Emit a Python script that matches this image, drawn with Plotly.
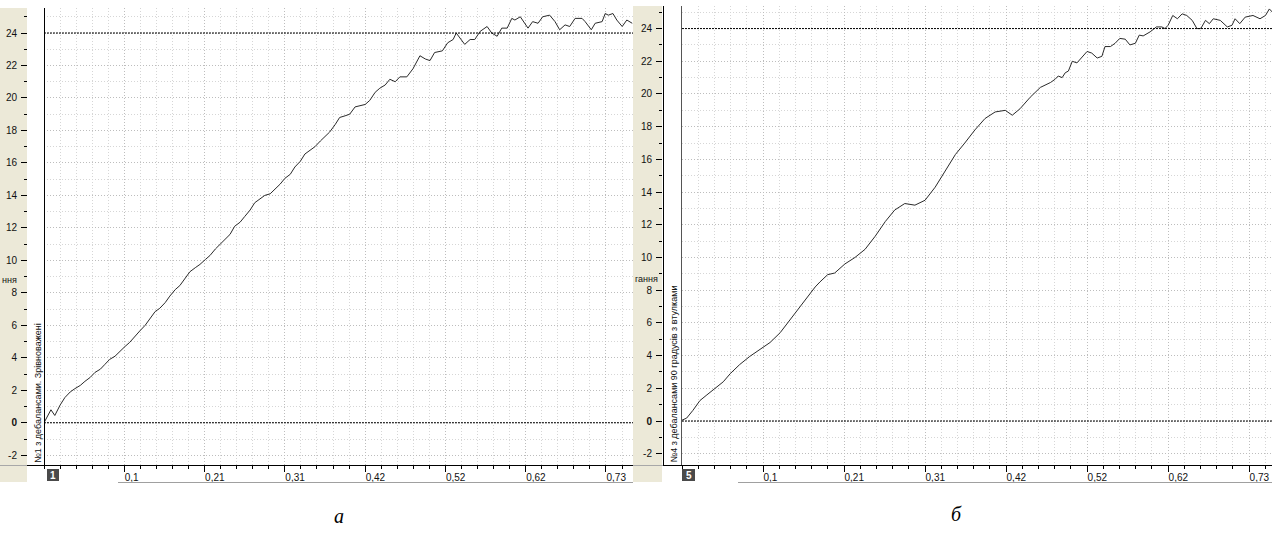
import plotly.graph_objects as go

# ---- data -------------------------------------------------------------
# panel a: rotor No1 with unbalances, balanced
a_t = [0.000, 0.004, 0.009, 0.014, 0.021, 0.027, 0.034, 0.040, 0.047, 0.053,
       0.060, 0.066, 0.073, 0.079, 0.085, 0.092, 0.098, 0.105, 0.111, 0.118,
       0.124, 0.131, 0.137, 0.144, 0.150, 0.157, 0.163, 0.170, 0.176, 0.183,
       0.189, 0.196, 0.202, 0.209, 0.215, 0.222, 0.228, 0.234, 0.241, 0.247,
       0.254, 0.260, 0.267, 0.273, 0.280, 0.286, 0.293, 0.299, 0.306, 0.312,
       0.319, 0.325, 0.332, 0.338, 0.345, 0.351, 0.358, 0.364, 0.370, 0.377,
       0.383, 0.390, 0.396, 0.403, 0.409, 0.416, 0.422, 0.429, 0.435, 0.442,
       0.448, 0.455, 0.461, 0.470, 0.478, 0.487, 0.494, 0.500, 0.506, 0.516,
       0.523, 0.530, 0.534, 0.539, 0.545, 0.552, 0.558, 0.565, 0.574, 0.580,
       0.587, 0.593, 0.600, 0.606, 0.610, 0.617, 0.627, 0.633, 0.640, 0.646,
       0.655, 0.662, 0.668, 0.675, 0.681, 0.688, 0.697, 0.701, 0.709, 0.714,
       0.723, 0.727, 0.731, 0.737, 0.742, 0.749, 0.755, 0.762]
a_v = [0.00, 0.40, 0.80, 0.45, 1.10, 1.55, 1.90, 2.10, 2.30, 2.55,
       2.80, 3.10, 3.30, 3.60, 3.90, 4.10, 4.40, 4.70, 4.95, 5.35,
       5.65, 6.00, 6.40, 6.85, 7.05, 7.40, 7.80, 8.20, 8.45, 8.90,
       9.30, 9.55, 9.75, 10.05, 10.30, 10.70, 11.00, 11.25, 11.60, 12.10,
       12.35, 12.70, 13.10, 13.55, 13.80, 14.00, 14.10, 14.35, 14.70, 15.05,
       15.30, 15.75, 16.10, 16.55, 16.80, 17.00, 17.35, 17.60, 17.90, 18.35,
       18.80, 18.90, 19.00, 19.45, 19.50, 19.60, 19.85, 20.35, 20.60, 20.80,
       21.15, 21.00, 21.30, 21.30, 21.80, 22.60, 22.40, 22.30, 22.80, 22.90,
       23.40, 23.60, 24.00, 23.70, 23.30, 23.60, 23.60, 24.10, 24.40, 24.00,
       23.80, 24.30, 24.30, 24.90, 24.80, 25.00, 24.30, 24.70, 24.60, 25.00,
       25.10, 24.70, 24.20, 24.50, 24.40, 24.90, 24.90, 24.70, 24.20, 24.60,
       24.70, 25.20, 25.10, 25.20, 24.80, 24.40, 24.80, 24.60]

# panel б: rotor No4, unbalances at 90 degrees, with bushings
b_t = [0.000, 0.006, 0.014, 0.023, 0.032, 0.042, 0.053, 0.062, 0.074, 0.087,
       0.100, 0.113, 0.126, 0.139, 0.152, 0.164, 0.171, 0.177, 0.187, 0.196,
       0.209, 0.222, 0.235, 0.248, 0.261, 0.273, 0.286, 0.299, 0.312, 0.325,
       0.338, 0.351, 0.363, 0.376, 0.389, 0.402, 0.415, 0.424, 0.434, 0.447,
       0.460, 0.473, 0.479, 0.483, 0.488, 0.492, 0.496, 0.501, 0.507, 0.514,
       0.520, 0.526, 0.533, 0.539, 0.543, 0.550, 0.556, 0.562, 0.569, 0.575,
       0.582, 0.587, 0.592, 0.601, 0.609, 0.616, 0.620, 0.624, 0.630, 0.636,
       0.642, 0.648, 0.655, 0.661, 0.666, 0.672, 0.677, 0.682, 0.691, 0.700,
       0.706, 0.710, 0.716, 0.723, 0.733, 0.742, 0.749, 0.754, 0.758]
b_v = [0.05, 0.18, 0.65, 1.25, 1.60, 2.00, 2.40, 2.90, 3.45, 3.95,
       4.40, 4.80, 5.40, 6.20, 7.00, 7.80, 8.20, 8.50, 8.95, 9.05,
       9.60, 10.00, 10.50, 11.30, 12.20, 12.90, 13.30, 13.20, 13.50, 14.30,
       15.30, 16.30, 17.00, 17.80, 18.50, 18.90, 19.00, 18.70, 19.10, 19.80,
       20.40, 20.70, 20.90, 21.10, 21.00, 21.30, 21.40, 22.00, 21.90, 22.30,
       22.60, 22.50, 22.20, 22.30, 22.90, 22.90, 23.10, 23.40, 23.35, 23.00,
       23.10, 23.60, 23.55, 23.80, 24.10, 24.10, 24.00, 24.20, 24.80, 24.60,
       24.90, 24.80, 24.50, 24.00, 24.00, 24.50, 24.30, 24.60, 24.50, 24.10,
       24.20, 24.60, 24.30, 24.70, 24.80, 24.60, 24.80, 25.20, 25.00]

x_tick_step = 0.104
x_tick_labels = ["0,1", "0,21", "0,31", "0,42", "0,52", "0,62", "0,73"]
y_tick_vals = [-2, 0, 2, 4, 6, 8, 10, 12, 14, 16, 18, 20, 22, 24]
y_tick_text = ["-2", "<b>0</b>", "2", "4", "6", "8", "10", "12", "14", "16",
               "18", "20", "22", "24"]
ref_levels = [0, 24]

titles = ["№1 з дебалансами. Зрівноважені", "№4 з дебалансами 90 градусів з втулками"]
axis_names = ["ння", "гання"]
chan_ids = ["1", "5"]
captions = ["а", "б"]

# ---- geometry helpers (pixel -> paper) -------------------------------
W, H = 1272, 536


def px(x):
    return x / W


def py(y):
    return 1 - y / H


BEIGE = "#ECE9D8"
FONT = "Liberation Sans"
TICK_FONT = dict(family=FONT, size=10, color="#111")

fig = go.Figure()
fig.add_trace(go.Scatter(x=a_t, y=a_v, mode="lines", xaxis="x", yaxis="y",
                         line=dict(color="#2a2a2a", width=1), showlegend=False,
                         hoverinfo="skip"))
fig.add_trace(go.Scatter(x=b_t, y=b_v, mode="lines", xaxis="x2", yaxis="y2",
                         line=dict(color="#2a2a2a", width=1), showlegend=False,
                         hoverinfo="skip"))

x_tick_vals = [x_tick_step * (i + 1) for i in range(len(x_tick_labels))]


def xaxis_cfg(dom, rng, anchor):
    return dict(domain=dom, range=rng, anchor=anchor,
                tickmode="array", tickvals=x_tick_vals, ticktext=x_tick_labels,
                ticks="outside", ticklen=6, tickcolor="black", tickwidth=1,
                ticklabelposition="outside right", tickfont=TICK_FONT,
                ticklabelstandoff=3,
                showline=False, zeroline=False,
                showgrid=True, gridcolor="#bdbdbd", griddash="1px,2px", gridwidth=1,
                minor=dict(tickmode="linear", tick0=0, dtick=x_tick_step / 5,
                           ticks="outside", ticklen=3, tickcolor="black",
                           showgrid=True, gridcolor="#d6d6d6", griddash="1px,2px",
                           gridwidth=1),
                fixedrange=True)


def yaxis_cfg(dom, rng, pos):
    return dict(domain=dom, range=rng, anchor="free", position=pos,
                tickmode="array", tickvals=y_tick_vals, ticktext=y_tick_text,
                ticks="outside", ticklen=6, tickcolor="black", tickwidth=1,
                tickfont=TICK_FONT, ticklabelstandoff=2,
                showline=False, zeroline=False,
                showgrid=True, gridcolor="#bdbdbd", griddash="1px,2px", gridwidth=1,
                minor=dict(tickmode="linear", tick0=0, dtick=1,
                           ticks="outside", ticklen=3, tickcolor="black",
                           showgrid=True, gridcolor="#d6d6d6", griddash="1px,2px",
                           gridwidth=1),
                fixedrange=True)


xa = xaxis_cfg([px(44), px(633)], [0, 0.763], "y")
xb = xaxis_cfg([px(682), 1.0], [0, 0.7574], "y2")
ya = yaxis_cfg([py(465), py(8)], [-2.6, 25.54], px(27))
yb = yaxis_cfg([py(465), py(6)], [-2.69, 25.38], px(662))

shapes = []


def rect(x0, y0, x1, y1, fill, layer="below"):
    shapes.append(dict(type="rect", xref="paper", yref="paper",
                       x0=px(x0), x1=px(x1), y0=py(y1), y1=py(y0),
                       fillcolor=fill, line=dict(width=0), layer=layer))


def seg(x0, y0, x1, y1, color="black", width=1):
    shapes.append(dict(type="line", xref="paper", yref="paper",
                       x0=px(x0), x1=px(x1), y0=py(y0), y1=py(y1),
                       line=dict(color=color, width=width), layer="above"))


# beige axis strips
rect(0, 8, 27, 482, BEIGE)
rect(633, 6, 662, 482, BEIGE)
seg(0, 465.5, 27, 465.5, "#a8a8a8")
seg(633, 465.5, 663, 465.5, "#a8a8a8")

# frame lines
seg(44.5, 8, 44.5, 465.5, "black")
seg(27, 465.5, 633, 465.5, "black")
seg(663.5, 6, 663.5, 465.5, "black")
seg(681.5, 6, 681.5, 465.5, "#555555")
seg(663, 465.5, 1272, 465.5, "black")

# scroll-bar edges under the axes
seg(118, 482.5, 633, 482.5, "#a0a0a0")
seg(738, 482.5, 1272, 482.5, "#a0a0a0")

# reference levels
for xr, yr in (("x", "y"), ("x2", "y2")):
    for lv in ref_levels:
        shapes.append(dict(type="line", xref=f"{xr} domain", yref=yr,
                           x0=0, x1=1, y0=lv, y1=lv,
                           line=dict(color="black", width=1, dash="2px,1px"),
                           layer="above"))

# channel number boxes
rect(47, 469, 59, 481, "#4a4a4a", layer="above")
rect(682, 469, 695, 481, "#4a4a4a", layer="above")

LBL_FONT = dict(family=FONT, size=9, color="#111")
annotations = [
    dict(text=titles[0], x=px(38), y=py(465), xref="paper", yref="paper",
         textangle=-90, xanchor="center", yanchor="bottom", showarrow=False,
         font=LBL_FONT),
    dict(text=titles[1], x=px(673), y=py(465), xref="paper", yref="paper",
         textangle=-90, xanchor="center", yanchor="bottom", showarrow=False,
         font=LBL_FONT),
    dict(text=axis_names[0], x=px(0), y=py(280), xref="paper", yref="paper",
         xanchor="left", yanchor="middle", showarrow=False, font=LBL_FONT),
    dict(text=axis_names[1], x=px(633), y=py(279), xref="paper", yref="paper",
         xanchor="left", yanchor="middle", showarrow=False, font=LBL_FONT),
    dict(text=f"<b>{chan_ids[0]}</b>", x=px(53), y=py(475), xref="paper", yref="paper",
         xanchor="center", yanchor="middle", showarrow=False,
         font=dict(family=FONT, size=10, color="white")),
    dict(text=f"<b>{chan_ids[1]}</b>", x=px(688.5), y=py(475), xref="paper", yref="paper",
         xanchor="center", yanchor="middle", showarrow=False,
         font=dict(family=FONT, size=10, color="white")),
    dict(text=f"<i>{captions[0]}</i>", x=px(339), y=py(516), xref="paper", yref="paper",
         xanchor="center", yanchor="middle", showarrow=False,
         font=dict(family="Liberation Serif", size=20, color="black")),
    dict(text=f"<i>{captions[1]}</i>", x=px(956), y=py(514), xref="paper", yref="paper",
         xanchor="center", yanchor="middle", showarrow=False,
         font=dict(family="Liberation Serif", size=20, color="black")),
]

fig.update_layout(
    width=W, height=H, margin=dict(l=0, r=0, t=0, b=0),
    paper_bgcolor="white", plot_bgcolor="white",
    xaxis=xa, xaxis2=xb, yaxis=ya, yaxis2=yb,
    shapes=shapes, annotations=annotations, showlegend=False,
)

fig.write_html("out.html")
